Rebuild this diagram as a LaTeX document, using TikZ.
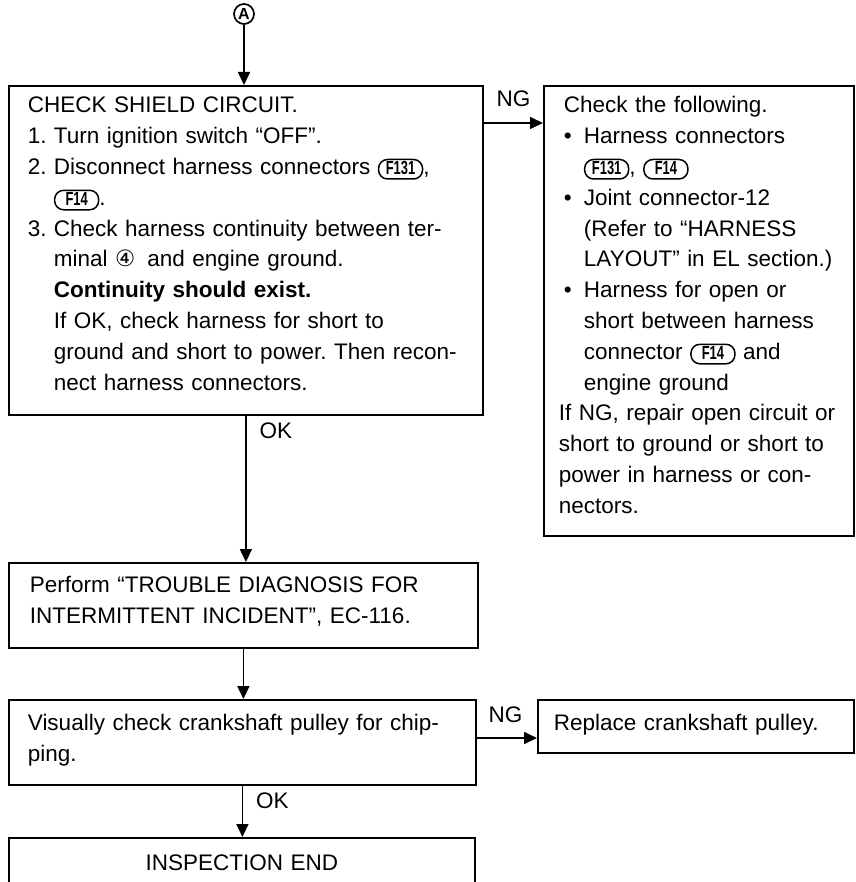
\documentclass[tikz,border=0pt]{standalone}
\usepackage{fontspec}
\setmainfont{Liberation Sans}
\newfontfamily\symfont{DejaVu Sans}
\usepackage{graphicx}
\usetikzlibrary{arrows.meta,positioning}

\tikzset{
  box/.style={draw, line width=1.8pt, rectangle, anchor=north west, inner ysep=0pt, align=left},
  endstyle/.style={draw, line width=1.8pt, rectangle, anchor=north west, inner ysep=0pt, align=center},
  flow/.style={line width=1.6pt, -{Triangle[length=13pt,width=12pt]}},
  lbl/.style={inner sep=0pt, anchor=base west},
  conbox/.style={draw, line width=1.5pt, rounded corners=9pt, inner xsep=5pt, inner ysep=0pt,
    text width={}, text height=15pt, text depth=4.5pt, minimum width=44pt, anchor=center,
    font=\fontsize{19}{19}\selectfont\bfseries}
}
\newcommand{\conn}[1]{\tikz[baseline=(cb.base)]\node[conbox] (cb) {\scalebox{0.68}[1]{#1}};}
\newcommand{\numb}[1]{\makebox[26pt][l]{#1.}}
\newcommand{\cont}{\hspace*{26pt}}
\newcommand{\bull}{\hspace*{5pt}\makebox[20pt][l]{•}}
\newcommand{\bcont}{\hspace*{25pt}}

\begin{document}
\frenchspacing
\begin{tikzpicture}[x=1pt, y=-1pt, font=\fontsize{22.5}{30.8}\selectfont]
\useasboundingbox (0,0) rectangle (855,882);

%----- START MARK -----
\node[draw, circle, line width=1.7pt, minimum size=20pt, inner sep=0pt,
  font=\fontsize{16}{16}\selectfont\bfseries] (circA) at (244,14) {A};

%----- BOXES -----
\node[box, text width=436pt, inner xsep=19pt, text height=27pt, text depth=302pt] (shield) at (8,85) {
CHECK SHIELD CIRCUIT.\\
\numb{1}Turn ignition switch “OFF”.\\
\numb{2}Disconnect harness connectors \conn{F131},\\
\cont\conn{F14}.\\
\numb{3}Check harness continuity between ter-\\
\cont minal {\symfont ④}\hspace{12pt}and engine ground.\\
\cont\textbf{Continuity should exist.}\\
\cont If OK, check harness for short to\\
\cont ground and short to power. Then recon-\\
\cont nect harness connectors.};

\node[box, text width=280pt, inner xsep=15pt, text height=27pt, text depth=423pt] (check) at (543,85) {
\hspace*{5pt}Check the following.\\
\bull Harness connectors\\
\bcont\conn{F131}, \conn{F14}\\
\bull Joint connector-12\\
\bcont(Refer to “HARNESS\\
\bcont LAYOUT” in EL section.)\\
\bull Harness for open or\\
\bcont short between harness\\
\bcont connector \conn{F14} and\\
\bcont engine ground\\
If NG, repair open circuit or\\
short to ground or short to\\
power in harness or con-\\
nectors.};

\node[box, text width=427pt, inner xsep=21pt, text height=30pt, text depth=55pt] (perform) at (8,562) {
Perform “TROUBLE DIAGNOSIS FOR\\
INTERMITTENT INCIDENT”, EC-116.};

\node[box, text width=429pt, inner xsep=19pt, text height=31pt, text depth=54pt] (visual) at (8,699) {
Visually check crankshaft pulley for chip-\\
ping.};

\node[box, text width=284pt, inner xsep=16pt, text height=31pt, text depth=22pt] (replace) at (537,699) {
Replace crankshaft pulley.};

\node[endstyle, text width=428pt, inner xsep=19pt, text height=33pt, text depth=30pt] (endbox) at (8,837) {
INSPECTION END};

%----- CONNECTORS -----
\draw[flow] (circA) -- (circA |- shield.north);

\coordinate (ngA) at ([yshift=-38pt]shield.north east);
\draw[flow] (ngA) -- node[lbl, pos=0, xshift=12pt, yshift=16pt] (ngAlbl) {NG} (ngA -| check.west);

\draw[flow] (shield.south) -- node[lbl, pos=0, xshift=13pt, yshift=-23pt] (okAlbl) {OK}
  (shield.south |- perform.north);

\draw[flow] (perform.south) -- (perform.south |- visual.north);

\coordinate (ngB) at ([yshift=-39pt]visual.north east);
\draw[flow] (ngB) -- node[lbl, pos=0, xshift=11pt, yshift=16pt] (ngBlbl) {NG} (ngB -| replace.west);

\draw[flow] (visual.south) -- node[lbl, pos=0, xshift=13pt, yshift=-23pt] (okBlbl) {OK}
  (visual.south |- endbox.north);

\end{tikzpicture}
\end{document}
